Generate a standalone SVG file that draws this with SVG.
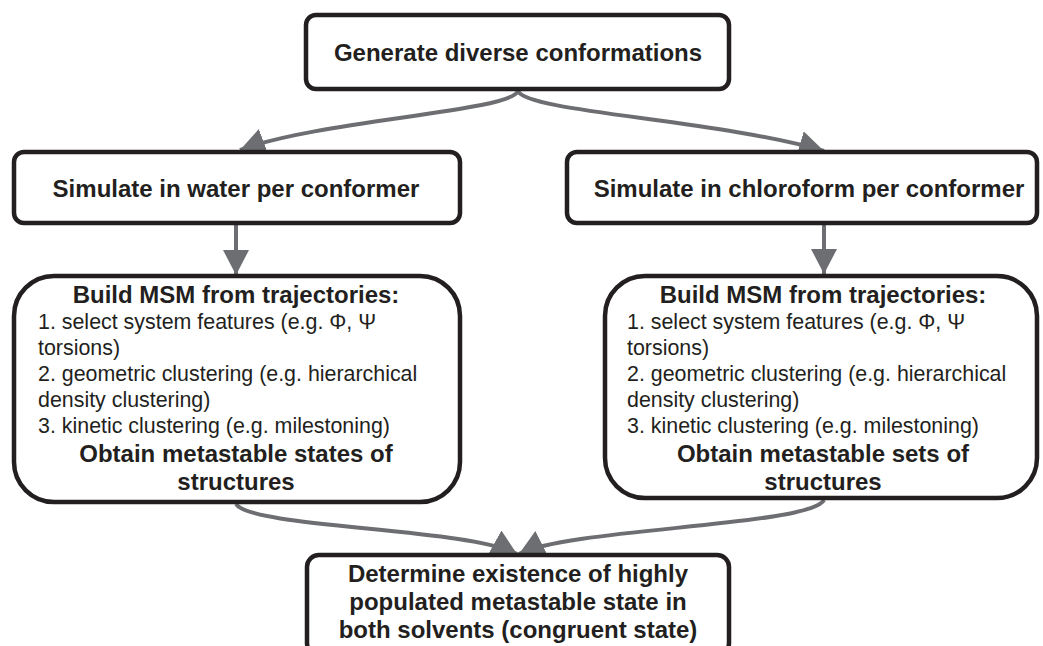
<svg xmlns="http://www.w3.org/2000/svg" width="1043" height="646" viewBox="0 0 1043 646">
<style>
.box{fill:#fff;stroke:#231f20;stroke-width:4.5}
.b{font-family:"Liberation Sans",Arial,sans-serif;font-weight:bold;font-size:24px;fill:#231f20;text-anchor:middle}
.n{font-family:"Liberation Sans",Arial,sans-serif;font-size:21.4px;fill:#231f20}
.c{fill:none;stroke:#6d6e71;stroke-width:4}
</style>
<defs>
<marker id="ah" markerUnits="userSpaceOnUse" markerWidth="28" markerHeight="28" refX="25" refY="13" orient="auto">
<path d="M0,0 L25,13 L0,26 Z" fill="#6d6e71"/>
</marker>
</defs>
<rect width="1043" height="646" fill="#fff"/>
<g id="connectors">
<path class="c" d="M518,91 C510,112 320,120 240,150" marker-end="url(#ah)"/>
<path class="c" d="M518,91 C526,112 720,120 824,151" marker-end="url(#ah)"/>
<path class="c" d="M236,225 L236,275" marker-end="url(#ah)"/>
<path class="c" d="M824,225 L824,274" marker-end="url(#ah)"/>
<path class="c" d="M236,504 C250,528 470,528 517,554" marker-end="url(#ah)"/>
<path class="c" d="M824,500 C810,526 570,528 519,554" marker-end="url(#ah)"/>
</g>
<g id="n-generate">
<rect class="box" x="306" y="15" width="423" height="74" rx="10"/>
<text class="b" x="518" y="61">Generate diverse conformations</text>
</g>
<g id="n-water">
<rect class="box" x="14" y="152" width="446" height="71" rx="10"/>
<text class="b" x="236" y="197">Simulate in water per conformer</text>
</g>
<g id="n-chloroform">
<rect class="box" x="567" y="152" width="470" height="71" rx="10"/>
<text class="b" x="809" y="197">Simulate in chloroform per conformer</text>
</g>
<g id="n-msm-water">
<rect class="box" x="14" y="276" width="446" height="226" rx="40"/>
<text class="b" x="236" y="303">Build MSM from trajectories:</text>
<text class="n" x="38" y="329">1. select system features (e.g. Φ, Ψ</text>
<text class="n" x="38" y="355">torsions)</text>
<text class="n" x="38" y="381">2. geometric clustering (e.g. hierarchical</text>
<text class="n" x="38" y="407">density clustering)</text>
<text class="n" x="38" y="433">3. kinetic clustering (e.g. milestoning)</text>
<text class="b" x="236" y="462">Obtain metastable states of</text>
<text class="b" x="236" y="490">structures</text>
</g>
<g id="n-msm-chloroform">
<rect class="box" x="605" y="276" width="432" height="222" rx="40"/>
<text class="b" x="823" y="303">Build MSM from trajectories:</text>
<text class="n" x="627" y="329">1. select system features (e.g. Φ, Ψ</text>
<text class="n" x="627" y="355">torsions)</text>
<text class="n" x="627" y="381">2. geometric clustering (e.g. hierarchical</text>
<text class="n" x="627" y="407">density clustering)</text>
<text class="n" x="627" y="433">3. kinetic clustering (e.g. milestoning)</text>
<text class="b" x="823" y="462">Obtain metastable sets of</text>
<text class="b" x="823" y="490">structures</text>
</g>
<g id="n-congruent">
<rect class="box" x="307" y="555" width="422" height="100" rx="12"/>
<text class="b" x="518" y="582">Determine existence of highly</text>
<text class="b" x="518" y="610">populated metastable state in</text>
<text class="b" x="518" y="638">both solvents (congruent state)</text>
</g>
</svg>
